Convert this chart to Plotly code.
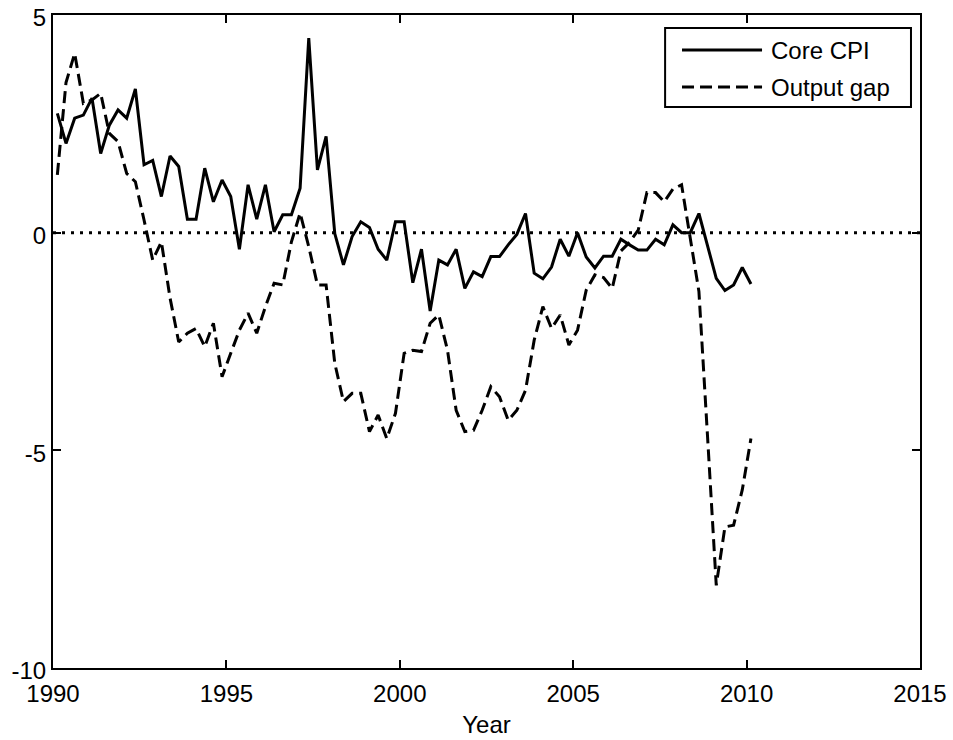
import plotly.graph_objects as go

start_year = 1990.125
step = 0.25

core_cpi = [2.74, 2.05, 2.63, 2.70, 3.09, 1.82, 2.47, 2.82, 2.63, 3.30,
            1.56, 1.66, 0.83, 1.76, 1.52, 0.31, 0.31, 1.48, 0.71, 1.21,
            0.83, -0.38, 1.10, 0.31, 1.10, 0.02, 0.41, 0.41, 1.02, 4.47,
            1.44, 2.21, -0.02, -0.74, -0.09, 0.25, 0.12, -0.38, -0.63, 0.25,
            0.25, -1.15, -0.38, -1.80, -0.63, -0.74, -0.38, -1.28, -0.90, -1.01,
            -0.55, -0.55, -0.28, -0.04, 0.44, -0.93, -1.06, -0.79, -0.15, -0.54,
            0.00, -0.56, -0.81, -0.54, -0.54, -0.15, -0.28, -0.40, -0.40, -0.15,
            -0.28, 0.18, 0.00, 0.00, 0.44, -0.30, -1.05, -1.33, -1.20, -0.80, -1.18]

output_gap = [1.33, 3.45, 4.12, 2.97, 3.05, 3.20, 2.28, 2.09, 1.36, 1.17,
              0.29, -0.63, -0.21, -1.50, -2.51, -2.31, -2.20, -2.62, -2.08, -3.31,
              -2.77, -2.24, -1.85, -2.31, -1.70, -1.16, -1.20, -0.21, 0.45, -0.32,
              -1.20, -1.20, -3.00, -3.88, -3.69, -3.69, -4.57, -4.19, -4.73, -4.15,
              -2.77, -2.70, -2.73, -2.08, -1.89, -2.70, -4.08, -4.57, -4.54, -4.08,
              -3.54, -3.77, -4.31, -4.08, -3.62, -2.47, -1.70, -2.20, -1.89, -2.58,
              -2.24, -1.32, -0.97, -1.03, -1.28, -0.42, -0.22, 0.06, 0.92, 0.92,
              0.71, 1.00, 1.10, -0.17, -1.35, -4.70, -8.10, -6.76, -6.72, -5.91, -4.73]

years = [start_year + step * i for i in range(len(core_cpi))]

x_ticks = [1990, 1995, 2000, 2005, 2010, 2015]
y_ticks = [-10, -5, 0, 5]
zero_x = [1990, 2015]
zero_y = [0, 0]

FONT = "Arial, Liberation Sans, sans-serif"
DASH = "12px,6px"
FS = 24

fig = go.Figure()
fig.add_trace(go.Scatter(x=zero_x, y=zero_y, mode="lines",
                         line=dict(color="black", width=3, dash="3px,6px"),
                         showlegend=False, hoverinfo="skip"))
fig.add_trace(go.Scatter(x=years, y=core_cpi, mode="lines", name="Core CPI",
                         line=dict(color="black", width=3), showlegend=False))
fig.add_trace(go.Scatter(x=years, y=output_gap, mode="lines", name="Output gap",
                         line=dict(color="black", width=3, dash=DASH), showlegend=False))

# custom legend (box, sample lines, labels)
fig.add_shape(type="rect", xref="paper", yref="paper", x0=0.706, x1=0.9896, y0=0.859, y1=0.980,
              line=dict(color="black", width=2), fillcolor="white", layer="above")
fig.add_shape(type="line", xref="paper", yref="paper", x0=0.7255, x1=0.8178, y0=0.9464, y1=0.9464,
              line=dict(color="black", width=3), layer="above")
fig.add_shape(type="line", xref="paper", yref="paper", x0=0.7255, x1=0.8178, y0=0.8897, y1=0.8897,
              line=dict(color="black", width=3, dash=DASH), layer="above")
fig.add_annotation(xref="paper", yref="paper", x=0.826, y=0.9464, text="Core CPI",
                   showarrow=False, xanchor="left", yanchor="middle",
                   font=dict(family=FONT, size=FS, color="black"))
fig.add_annotation(xref="paper", yref="paper", x=0.826, y=0.8897, text="Output gap",
                   showarrow=False, xanchor="left", yanchor="middle",
                   font=dict(family=FONT, size=FS, color="black"))

axis_common = dict(showline=True, linecolor="black", linewidth=2, mirror="ticks",
                   ticks="inside", ticklen=8, tickwidth=1.5, tickcolor="black",
                   showgrid=False, zeroline=False, automargin=False,
                   tickfont=dict(family=FONT, size=FS, color="black"))

fig.update_xaxes(range=[1990, 2015], tickvals=x_ticks, ticktext=[str(t) for t in x_ticks],
                 ticklabelstandoff=3,
                 title=dict(text="Year", font=dict(family=FONT, size=FS, color="black"), standoff=10),
                 **axis_common)
fig.update_yaxes(range=[-10, 5], tickvals=y_ticks, ticktext=[str(t) for t in y_ticks],
                 ticklabelshift=3,
                 **axis_common)

fig.update_layout(width=953, height=740, margin=dict(l=53, r=33, t=15, b=72),
                  plot_bgcolor="white", paper_bgcolor="white",
                  font=dict(family=FONT, size=FS, color="black"))

fig.write_html("out.html")
